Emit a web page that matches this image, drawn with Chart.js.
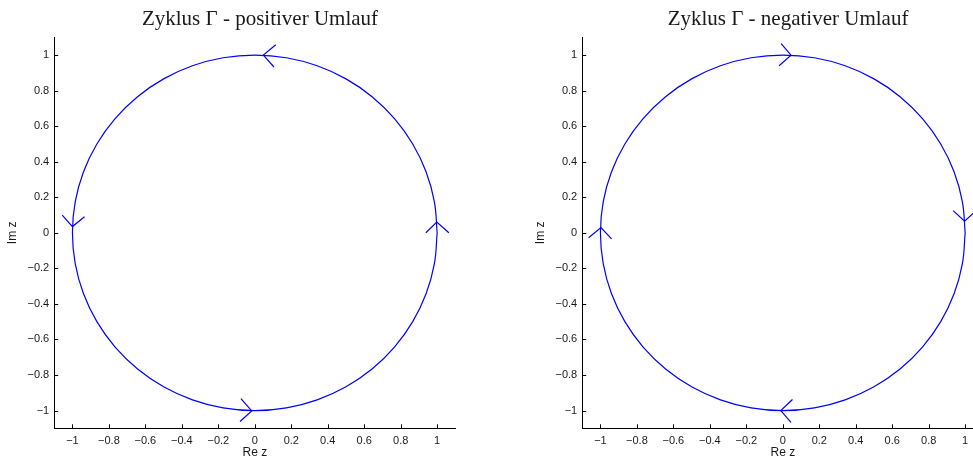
<!DOCTYPE html>
<html>
<head>
<meta charset="utf-8">
<script src="https://cdn.jsdelivr.net/npm/chart.js@4/dist/chart.umd.min.js"></script>
<style>
  html, body { margin: 0; padding: 0; background: #fff; }
  body { position: relative; width: 973px; height: 457px; overflow: hidden; }
  canvas { position: absolute; top: 0; }
  #pos_chart { left: 0; }
  #neg_chart { left: 528px; }
</style>
</head>
<body>
<canvas id="pos_chart" width="520" height="457"></canvas>
<canvas id="neg_chart" width="520" height="457"></canvas>
<script>
// unit circle, read every 10 degrees
const circleRe = [1, 0.9848, 0.9397, 0.8660, 0.7660, 0.6428, 0.5, 0.3420, 0.1736, 0,
  -0.1736, -0.3420, -0.5, -0.6428, -0.7660, -0.8660, -0.9397, -0.9848, -1,
  -0.9848, -0.9397, -0.8660, -0.7660, -0.6428, -0.5, -0.3420, -0.1736, 0,
  0.1736, 0.3420, 0.5, 0.6428, 0.7660, 0.8660, 0.9397, 0.9848, 1];
const circleIm = [0, 0.1736, 0.3420, 0.5, 0.6428, 0.7660, 0.8660, 0.9397, 0.9848, 1,
  0.9848, 0.9397, 0.8660, 0.7660, 0.6428, 0.5, 0.3420, 0.1736, 0,
  -0.1736, -0.3420, -0.5, -0.6428, -0.7660, -0.8660, -0.9397, -0.9848, -1,
  -0.9848, -0.9397, -0.8660, -0.7660, -0.6428, -0.5, -0.3420, -0.1736, 0];

// arrow heads: arm, tip, arm (top, bottom, left, right)
const posArrowRe = [[0.115, 0.047, 0.105], [-0.076, -0.017, -0.081], [-1.056, -1.0, -0.934], [0.938, 0.998, 1.064]];
const posArrowIm = [[1.058, 1.0, 0.933], [-0.933, -1.002, -1.062], [0.099, 0.035, 0.090], [0, 0.06, 0]];
const negArrowRe = [[-0.009, 0.045, -0.02], [0.053, -0.011, 0.045], [-1.065, -0.997, -0.939], [0.934, 0.997, 1.06]];
const negArrowIm = [[1.065, 1.0, 0.94], [-0.938, -1.0, -1.067], [-0.028, 0.03, -0.034], [0.125, 0.065, 0.125]];

const reTicks = [-1, -0.8, -0.6, -0.4, -0.2, 0, 0.2, 0.4, 0.6, 0.8, 1];
const imTicks = [-1, -0.8, -0.6, -0.4, -0.2, 0, 0.2, 0.4, 0.6, 0.8, 1];
const axisRange = [-1.1, 1.1];

const titles = ['Zyklus \u0393 - positiver Umlauf', 'Zyklus \u0393 - negativer Umlauf'];

const BLUE = 'rgb(0, 0, 255)';
const TEXT = '#1a1a1a';
const SANS = "'Liberation Sans', Arial, sans-serif";

function fmt(v) {
  return (v < 0 ? '\u2212' : '') + Math.abs(v);
}

function toPoints(re, im) {
  return re.map((x, i) => ({ x: x, y: im[i] }));
}

// MATLAB style tick marks pointing into the axes
const inwardTicks = {
  id: 'inwardTicks',
  beforeDatasetsDraw(chart) {
    const { ctx, chartArea, scales: { x, y } } = chart;
    ctx.save();
    ctx.strokeStyle = '#000';
    ctx.lineWidth = 1;
    ctx.beginPath();
    x.ticks.forEach(t => {
      const px = Math.round(x.getPixelForValue(t.value)) + 0.5;
      ctx.moveTo(px, chartArea.bottom);
      ctx.lineTo(px, chartArea.bottom - 4);
    });
    y.ticks.forEach(t => {
      const py = Math.round(y.getPixelForValue(t.value)) + 0.5;
      ctx.moveTo(chartArea.left, py);
      ctx.lineTo(chartArea.left + 4, py);
    });
    ctx.stroke();
    ctx.restore();
  }
};

function createCycleChart(canvasId, title, arrowRe, arrowIm) {
  const datasets = [{
    data: toPoints(circleRe, circleIm),
    borderColor: BLUE,
    borderWidth: 1.2,
    pointRadius: 0,
    showLine: true,
    tension: 0.4
  }];
  arrowRe.forEach((re, i) => {
    datasets.push({
      data: toPoints(re, arrowIm[i]),
      borderColor: BLUE,
      borderWidth: 1.2,
      pointRadius: 0,
      showLine: true,
      tension: 0
    });
  });

  return new Chart(document.getElementById(canvasId), {
    type: 'scatter',
    data: { datasets: datasets },
    options: {
      responsive: false,
      animation: false,
      devicePixelRatio: 1,
      plugins: {
        legend: { display: false },
        tooltip: { enabled: false },
        title: {
          display: true,
          text: title,
          color: TEXT,
          font: { family: "'Liberation Serif', 'Times New Roman', serif", size: 21, weight: 'normal', lineHeight: 1.2 },
          padding: { top: 7, bottom: 5.1 }
        }
      },
      scales: {
        x: {
          type: 'linear',
          position: 'bottom',
          min: axisRange[0],
          max: axisRange[1],
          afterBuildTicks: s => { s.ticks = reTicks.map(v => ({ value: v })); },
          afterFit: s => { s.height = 28.7; },
          grid: { display: false, drawTicks: false },
          border: { display: true, color: '#000', width: 1 },
          ticks: { padding: 6, color: TEXT, font: { family: SANS, size: 11 }, callback: fmt, maxRotation: 0 },
          title: { display: true, text: 'Re z', color: TEXT, font: { family: SANS, size: 12, lineHeight: 1 }, padding: { top: 0, bottom: -1.5 } }
        },
        y: {
          type: 'linear',
          position: 'left',
          min: axisRange[0],
          max: axisRange[1],
          afterBuildTicks: s => { s.ticks = imTicks.map(v => ({ value: v })); },
          afterFit: s => { s.width = 54.2; },
          grid: { display: false, drawTicks: false },
          border: { display: true, color: '#000', width: 1 },
          ticks: { padding: 5, color: TEXT, font: { family: SANS, size: 11 }, callback: fmt },
          title: { display: true, text: 'Im z', color: TEXT, font: { family: SANS, size: 12, lineHeight: 1.2 }, padding: { top: 5.3, bottom: 0 } }
        },
        spacer: {
          type: 'linear',
          position: 'right',
          afterFit: s => { s.width = 64.6; },
          grid: { display: false, drawTicks: false },
          border: { display: false },
          ticks: { display: false }
        }
      }
    },
    plugins: [inwardTicks]
  });
}

createCycleChart('pos_chart', titles[0], posArrowRe, posArrowIm);
createCycleChart('neg_chart', titles[1], negArrowRe, negArrowIm);
</script>
</body>
</html>
